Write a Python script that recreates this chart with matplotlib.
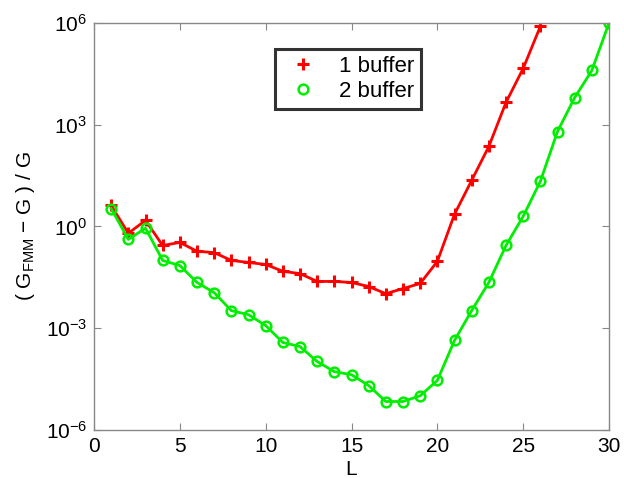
import matplotlib
matplotlib.use("Agg")
import matplotlib.pyplot as plt
import numpy as np

# log10 of (G_FMM - G)/G
L_one = list(range(1, 27))
log_one = [0.62, -0.2, 0.18, -0.56, -0.47, -0.73, -0.77, -1.0, -1.06, -1.12,
           -1.32, -1.39, -1.62, -1.62, -1.65, -1.77, -1.98, -1.83, -1.68, -1.03,
           0.36, 1.36, 2.36, 3.66, 4.66, 5.9]

L_two = list(range(1, 31))
log_two = [0.53, -0.38, -0.05, -1.0, -1.15, -1.65, -1.95, -2.48, -2.6, -2.92,
           -3.42, -3.54, -3.98, -4.28, -4.37, -4.69, -5.16, -5.16, -4.99, -4.54,
           -3.36, -2.48, -1.65, -0.56, 0.3, 1.33, 2.8, 3.8, 4.6, 6.0]

yticks = [1e-6, 1e-3, 1e0, 1e3, 1e6]
yticklabels = [r"$10^{-6}$", r"$10^{-3}$", r"$10^{0}$", r"$10^{3}$", r"$10^{6}$"]
xticks = [0, 5, 10, 15, 20, 25, 30]

plt.rcParams["font.family"] = ["Liberation Sans", "DejaVu Sans"]
plt.rcParams["mathtext.fontset"] = "custom"
plt.rcParams["mathtext.rm"] = "Liberation Sans"
plt.rcParams["mathtext.it"] = "Liberation Sans"

fig = plt.figure(figsize=(6.24, 4.78), dpi=100)
ax = fig.add_axes([94 / 624, 48 / 478, 515 / 624, 407 / 478])

ax.plot(L_one, 10 ** np.array(log_one), "-", color="#ff0000", linewidth=2,
        marker="+", markersize=8, markeredgewidth=2.2, label="1 buffer")
ax.plot(L_two, 10 ** np.array(log_two), "-", color="#00ee00", linewidth=2,
        marker="o", markersize=7, markeredgewidth=1.8, markerfacecolor="none",
        label="2 buffer")

ax.set_yscale("log")
ax.set_xlim(0, 30)
ax.set_ylim(1e-6, 1e6)
ax.set_yticks(yticks)
ax.set_yticklabels(yticklabels)
ax.set_xticks(xticks)
ax.minorticks_off()
ax.tick_params(direction="in", length=5, color="#888888", top=True, right=True,
               labelsize=15, pad=5)
for s in ax.spines.values():
    s.set_color("#888888")
    s.set_linewidth(1.0)

ax.set_xlabel("L", fontsize=15, labelpad=3)
ax.set_ylabel(r"( G$_{\mathrm{FMM}}$ $-$ G ) / G", fontsize=15, labelpad=6)

leg = ax.legend(loc="upper left", bbox_to_anchor=(181 / 515, 1 - 26 / 407), fontsize=16,
                frameon=True, fancybox=False, borderpad=0.3, handlelength=1.9,
                handletextpad=0.7, labelspacing=0.2, borderaxespad=0)
leg.get_frame().set_edgecolor("black")
leg.get_frame().set_linewidth(2.2)
for h in leg.get_lines():
    h.set_linestyle("none")

fig.savefig("out.png", dpi=100)
